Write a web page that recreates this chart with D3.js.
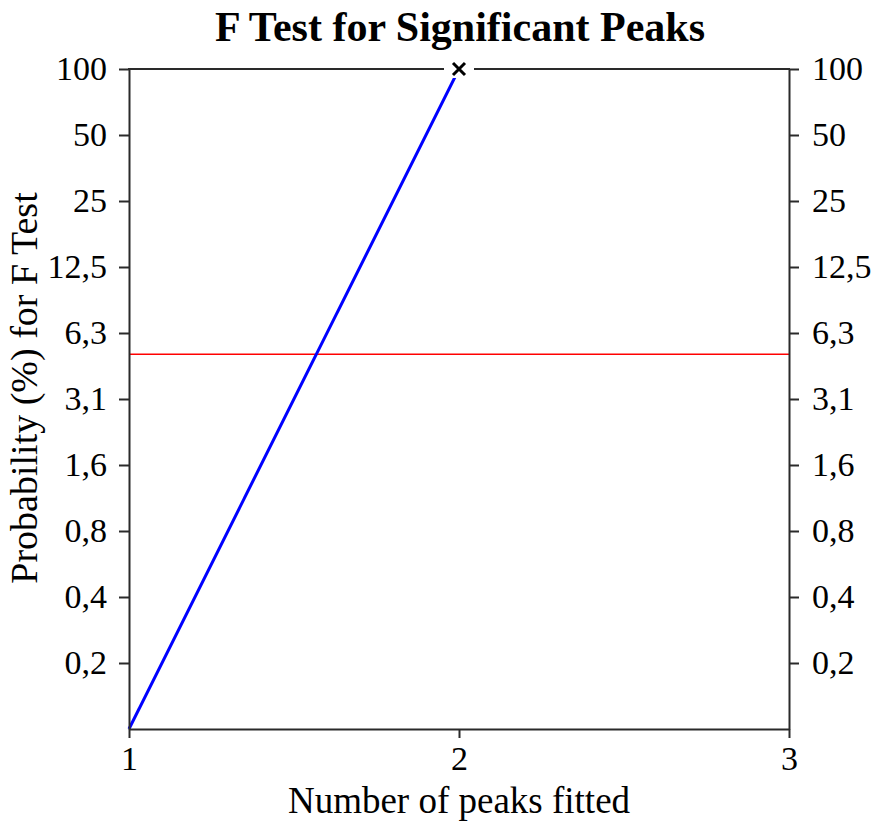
<!DOCTYPE html>
<html><head><meta charset="utf-8">
<script src="https://cdn.jsdelivr.net/npm/d3@7"></script>
<style>body{margin:0;background:#fff}svg{display:block}</style>
</head><body>
<svg id="c" width="879" height="825"></svg>
<script>
const title = "F Test for Significant Peaks";
const xLabel = "Number of peaks fitted";
const yLabel = "Probability (%) for F Test";
const peaks = [1, 2];
const probability = [0.0977, 100];
const threshold = 5;
const yTickValues = [100, 50, 25, 12.5, 6.25, 3.125, 1.5625, 0.78125, 0.390625, 0.1953125];
const yTickLabels = ["100", "50", "25", "12,5", "6,3", "3,1", "1,6", "0,8", "0,4", "0,2"];
const xTickValues = [1, 2, 3];
const yDomain = [100 / 1024, 100];
const xDomain = [1, 3];

const svg = d3.select("#c");
const L = 129, R = 789, T = 69, B = 729;
const font = "'Liberation Serif', 'Times New Roman', serif";
const x = d3.scaleLinear().domain(xDomain).range([L, R]);
const y = d3.scaleLog().base(2).domain(yDomain).range([B, T]);
const axisColor = "#2a2a2a";

// threshold line
svg.append("line").attr("x1", x(xDomain[0])).attr("x2", x(xDomain[1]))
  .attr("y1", y(threshold)).attr("y2", y(threshold))
  .attr("stroke", "#ff0000").attr("stroke-width", 1.5);

// data line
const line = d3.line().x((d, i) => x(peaks[i])).y((d, i) => y(probability[i]));
svg.append("path").datum(probability).attr("d", line)
  .attr("fill", "none").attr("stroke", "#0000ff").attr("stroke-width", 3);

function styleAxis(g) {
  g.attr("font-family", font).attr("font-size", 34);
  g.selectAll("path.domain").attr("stroke", axisColor).attr("stroke-width", 2);
  g.selectAll(".tick line").attr("stroke", axisColor).attr("stroke-width", 2);
  g.selectAll(".tick text").attr("fill", "#000");
}

const fmt = v => yTickLabels[yTickValues.indexOf(v)];
const gl = svg.append("g").attr("transform", `translate(${L},0)`)
  .call(d3.axisLeft(y).tickValues(yTickValues).tickFormat(fmt).tickSize(10).tickSizeOuter(0).tickPadding(12));
styleAxis(gl);
const gr = svg.append("g").attr("transform", `translate(${R},0)`)
  .call(d3.axisRight(y).tickValues(yTickValues).tickFormat(fmt).tickSize(10).tickSizeOuter(0).tickPadding(13));
styleAxis(gr);
const gb = svg.append("g").attr("transform", `translate(0,${B})`)
  .call(d3.axisBottom(x).tickValues(xTickValues).tickFormat(d3.format("d")).tickSize(9).tickSizeOuter(0).tickPadding(8));
styleAxis(gb);
// top border
svg.append("line").attr("x1", L - 1).attr("x2", R + 1).attr("y1", T).attr("y2", T)
  .attr("stroke", axisColor).attr("stroke-width", 2);

// marker at last point
const mx = x(peaks[1]), my = y(probability[1]);
svg.append("rect").attr("x", mx - 15).attr("y", my - 9).attr("width", 30).attr("height", 18).attr("fill", "#fff");
const s = 6;
svg.append("path").attr("d", `M${mx - s},${my - s}L${mx + s},${my + s}M${mx - s},${my + s}L${mx + s},${my - s}`)
  .attr("stroke", "#000").attr("stroke-width", 3);

// title and labels
svg.append("text").attr("x", 460).attr("y", 41).attr("text-anchor", "middle")
  .attr("font-family", font).attr("font-weight", "bold").attr("font-size", 42).text(title);
svg.append("text").attr("x", 459).attr("y", 813).attr("text-anchor", "middle")
  .attr("font-family", font).attr("font-size", 37).text(xLabel);
svg.append("text").attr("transform", `translate(37,388) rotate(-90)`).attr("text-anchor", "middle")
  .attr("font-family", font).attr("font-size", 38).text(yLabel);
</script>
</body></html>
